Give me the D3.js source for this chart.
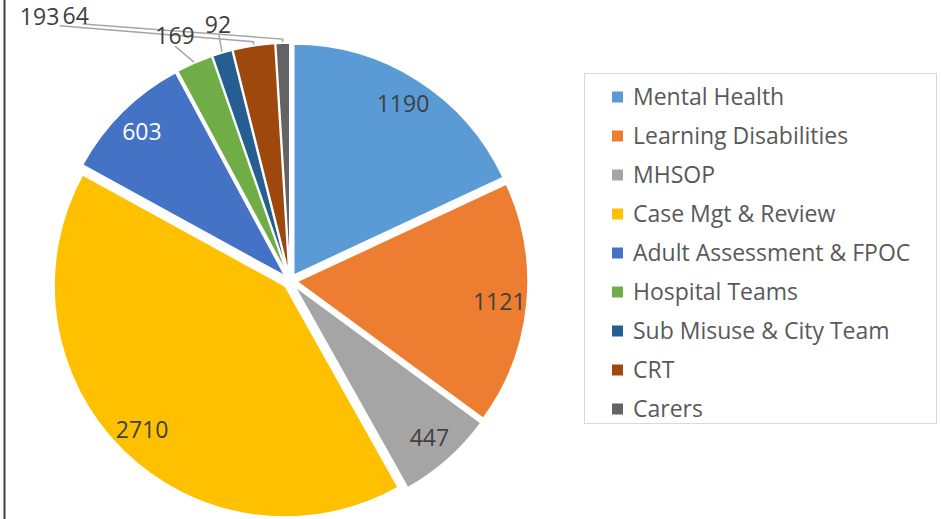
<!DOCTYPE html>
<html lang="en">
<head>
    <meta charset="UTF-8">
    <title>Team Pie</title>
    <script src="https://d3js.org/d3.v7.min.js"></script>
    <style>
        body { margin: 0; background: #fff; }
        svg { display: block; font-family: "Open Sans", sans-serif; }
        .lbl { font-size: 23px; fill: #404040; }
        .legend text { font-size: 23px; fill: #595959; }
    </style>
</head>
<body>
    <svg id="chart" width="941" height="519"></svg>

    <script>
        // data
        const teams = ["Mental Health", "Learning Disabilities", "MHSOP", "Case Mgt & Review",
            "Adult Assessment & FPOC", "Hospital Teams", "Sub Misuse & City Team", "CRT", "Carers"];
        const counts = [1190, 1121, 447, 2710, 603, 169, 92, 193, 64];
        const colours = ["#5B9BD5", "#ED7D31", "#A5A5A5", "#FFC000", "#4472C4",
            "#70AD47", "#255E91", "#9E480E", "#636363"];

        // labels outside the pie: offset from slice edge, plus leader start offset from label
        const outside = {
            "Hospital Teams": { dx: -19, dy: -26, lx: 0, ly: 10 },
            "Sub Misuse & City Team": { dx: -4, dy: -27, lx: 1, ly: 10 },
            "CRT": { dx: -214, dy: -28, lx: 20, ly: 9 },
            "Carers": { dx: -207, dy: -26, lx: 7, ly: 8 }
        };

        const svg = d3.select("#chart");
        const cx = 290, cy = 281, r = 231, explode = 7;

        // left border
        svg.append("line")
            .attr("x1", 4.5).attr("x2", 4.5).attr("y1", 0).attr("y2", 519)
            .attr("stroke", "#404040").attr("stroke-width", 2);

        const pie = d3.pie().sort(null).value(d => d.v);
        const arcs = pie(teams.map((t, i) => ({ name: t, v: counts[i], c: colours[i] })));

        const arc = d3.arc().innerRadius(0).outerRadius(r);
        const labelArc = d3.arc().innerRadius(r * 0.88).outerRadius(r * 0.88);
        const mid = d => (d.startAngle + d.endAngle) / 2;
        const shift = d => [Math.sin(mid(d)) * explode, -Math.cos(mid(d)) * explode];

        const g = svg.append("g").attr("transform", `translate(${cx},${cy})`);

        const slices = g.selectAll("g.slice").data(arcs).enter().append("g")
            .attr("class", "slice")
            .attr("transform", d => `translate(${shift(d)})`);

        slices.append("path")
            .attr("d", arc)
            .attr("fill", d => d.data.c)
            .attr("stroke", "#fff")
            .attr("stroke-width", 1.5);

        // inside labels
        slices.filter(d => !outside[d.data.name]).append("text")
            .attr("class", "lbl")
            .attr("transform", d => `translate(${labelArc.centroid(d)})`)
            .attr("text-anchor", "middle")
            .attr("dy", "0.35em")
            .style("fill", d => d.data.name === "Adult Assessment & FPOC" ? "#fff" : null)
            .text(d => d.data.v);

        // outside labels with leader lines
        const outs = arcs.filter(d => outside[d.data.name]);
        const edge = d => {
            const k = r + explode + 1;
            return [Math.sin(mid(d)) * k, -Math.cos(mid(d)) * k];
        };

        g.selectAll("polyline.lead").data(outs).enter().append("polyline")
            .attr("class", "lead")
            .attr("fill", "none")
            .attr("stroke", "#A6A6A6")
            .attr("stroke-width", 1.5)
            .attr("points", d => {
                const [x, y] = edge(d);
                const o = outside[d.data.name];
                const sx = x + o.dx + o.lx, sy = y + o.dy + o.ly;
                const pts = o.dx < -100 ? [[sx, sy], [x, y - 3], [x, y]] : [[sx, sy], [x, y]];
                return pts.map(p => p.join(",")).join(" ");
            });

        g.selectAll("text.out").data(outs).enter().append("text")
            .attr("class", "lbl out")
            .attr("x", d => edge(d)[0] + outside[d.data.name].dx)
            .attr("y", d => edge(d)[1] + outside[d.data.name].dy)
            .attr("text-anchor", "middle")
            .attr("dy", "0.35em")
            .text(d => d.data.v);

        // legend
        const legend = svg.append("g").attr("class", "legend");
        legend.append("rect")
            .attr("x", 584.5).attr("y", 73.5).attr("width", 352).attr("height", 350)
            .attr("fill", "#fff").attr("stroke", "#D9D9D9");

        const yItem = d3.scalePoint().domain(teams).range([97, 409]);
        const items = legend.selectAll("g.item").data(teams).enter().append("g")
            .attr("class", "item")
            .attr("transform", t => `translate(612,${yItem(t)})`);
        items.append("rect")
            .attr("x", 0).attr("y", -5.5).attr("width", 11).attr("height", 11)
            .attr("fill", (t, i) => colours[i]);
        items.append("text")
            .attr("x", 21).attr("dy", "0.35em")
            .text(t => t);
    </script>
</body>
</html>
